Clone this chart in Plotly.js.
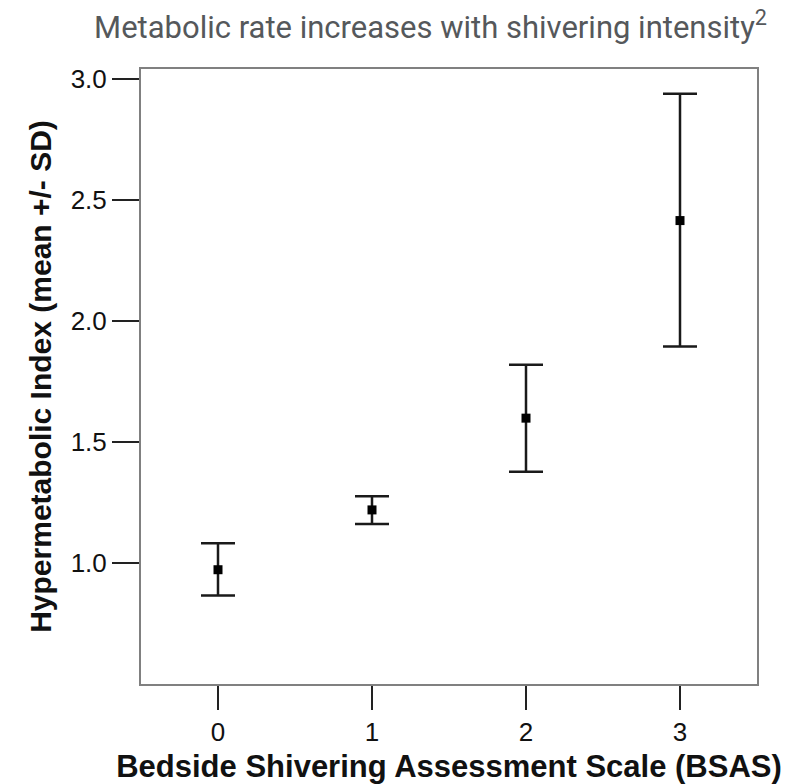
<!DOCTYPE html>
<html>
<head>
<meta charset="utf-8">
<script src="https://cdn.plot.ly/plotly-3.0.1.min.js"></script>
<style>html,body{margin:0;padding:0;background:#fff;}#chart{width:800px;height:784px;}</style>
</head>
<body>
<div id="chart"></div>
<script>
// Data
const bsasLevels = [0, 1, 2, 3];
const meanIndex = [0.972, 1.219, 1.598, 2.414];
const upperSD = [1.081, 1.275, 1.819, 2.938];
const lowerSD = [0.865, 1.161, 1.377, 1.894];
const yTickVals = [1.0, 1.5, 2.0, 2.5, 3.0];
const yTickText = ["1.0", "1.5", "2.0", "2.5", "3.0"];
const xTickVals = [0, 1, 2, 3];
const xTickText = ["0", "1", "2", "3"];

const errPlus = meanIndex.map((m, i) => upperSD[i] - m);
const errMinus = meanIndex.map((m, i) => m - lowerSD[i]);

const ARIAL = '"Liberation Sans", Arial, Helvetica, sans-serif';

const trace = {
  type: 'scatter',
  mode: 'markers',
  x: bsasLevels,
  y: meanIndex,
  marker: {symbol: 'square', size: 9, color: '#000'},
  error_y: {
    type: 'data',
    symmetric: false,
    array: errPlus,
    arrayminus: errMinus,
    color: '#1a1a1a',
    thickness: 2.5,
    width: 17
  },
  hoverinfo: 'skip'
};

const layout = {
  width: 800,
  height: 784,
  paper_bgcolor: '#fff',
  plot_bgcolor: '#fff',
  showlegend: false,
  margin: {l: 141, r: 43, t: 69, b: 100, pad: 0},
  title: {
    text: 'Metabolic rate increases with shivering intensity<sup>2</sup>',
    font: {family: 'Roboto, sans-serif', size: 31, color: '#55585b'},
    x: 767 / 800,
    xanchor: 'right',
    xref: 'container',
    y: 1 - 27 / 784,
    yanchor: 'middle'
  },
  xaxis: {
    range: [-0.5, 3.5],
    tickvals: xTickVals,
    ticktext: xTickText,
    ticks: 'outside',
    ticklen: 24,
    tickwidth: 2,
    tickcolor: '#222',
    showline: true,
    mirror: true,
    linecolor: '#808080',
    linewidth: 2,
    showgrid: false,
    zeroline: false,
    tickfont: {family: ARIAL, size: 26, color: '#111'},
    title: {
      text: 'Bedside Shivering Assessment Scale (BSAS)',
      font: {family: ARIAL, size: 31, color: '#111', weight: 'bold'},
      standoff: 10
    }
  },
  yaxis: {
    range: [0.5, 3.04],
    tickvals: yTickVals,
    ticktext: yTickText,
    ticks: 'outside',
    ticklen: 27,
    tickwidth: 2,
    tickcolor: '#222',
    showline: true,
    mirror: true,
    linecolor: '#808080',
    linewidth: 2,
    showgrid: false,
    zeroline: false,
    tickfont: {family: ARIAL, size: 26, color: '#111'},
    title: {
      text: 'Hypermetabolic Index (mean +/- SD)',
      font: {family: ARIAL, size: 30, color: '#111', weight: 'bold'},
      standoff: 10
    }
  }
};

Plotly.newPlot('chart', [trace], layout, {displayModeBar: false, staticPlot: true});
</script>
</body>
</html>
